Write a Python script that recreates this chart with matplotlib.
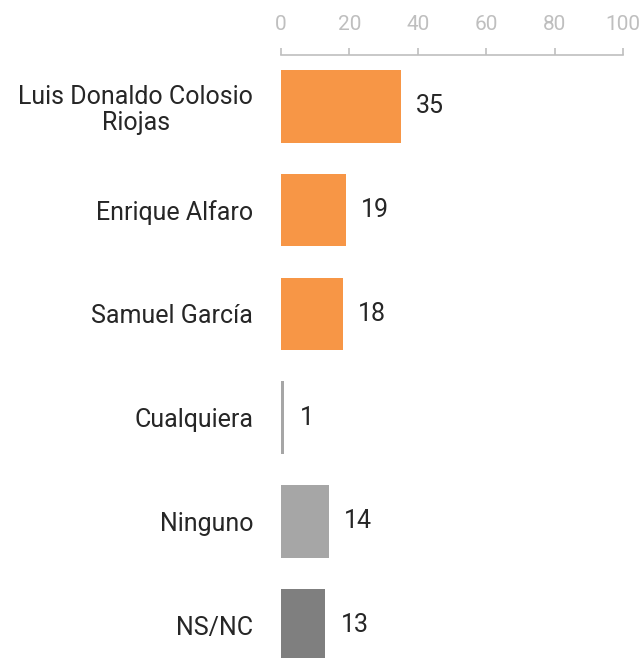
import matplotlib
matplotlib.use("Agg")
import matplotlib.pyplot as plt

# Data
labels = ["Luis Donaldo Colosio\nRiojas", "Enrique Alfaro", "Samuel García",
          "Cualquiera", "Ninguno", "NS/NC"]
values = [35, 19, 18, 1, 14, 13]
colors = ["#F79646", "#F79646", "#F79646", "#A6A6A6", "#A6A6A6", "#7F7F7F"]
xticks = [0, 20, 40, 60, 80, 100]

plt.rcParams['font.family'] = ['Roboto', 'DejaVu Sans']

fig = plt.figure(figsize=(6.44, 6.58), dpi=100)
ax = fig.add_axes([0.4363, -0.0289, 0.531, 0.946])

pos = range(len(values))
ax.barh(pos, values, height=0.70, color=colors)
ax.set_ylim(5.5, -0.5)
ax.set_xlim(0, 100)

for y, v in zip(pos, values):
    ax.annotate(str(v), (v, y), xytext=(11, 0), textcoords="offset points",
                va="center", ha="left", fontsize=18, color="#262626")

ax.xaxis.tick_top()
ax.set_xticks(xticks)
ax.tick_params(axis="x", colors="#BFBFBF", length=5, width=1.2, pad=10,
               labelsize=15, labelcolor="#BFBFBF")
ax.set_yticks(list(pos))
ax.set_yticklabels(labels, fontsize=18, color="#262626", linespacing=1.1)
for t in ax.get_yticklabels():
    t.set_multialignment("center")
ax.tick_params(axis="y", length=0, pad=20)

for s in ["right", "bottom", "left"]:
    ax.spines[s].set_visible(False)
ax.spines["top"].set_color("#BFBFBF")
ax.spines["top"].set_linewidth(1.2)

fig.savefig("out.png", dpi=100)
